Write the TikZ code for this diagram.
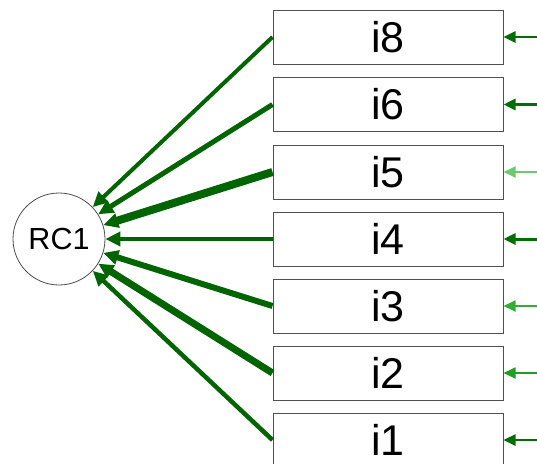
\documentclass[tikz,border=0pt]{standalone}
\usepackage{fontspec}
\setmainfont{Liberation Sans}
\usetikzlibrary{arrows.meta}
\definecolor{loadgreen}{RGB}{0,100,0}
\definecolor{resdark}{RGB}{0,110,0}
\definecolor{resmid}{RGB}{30,160,30}
\definecolor{resmid2}{RGB}{50,175,50}
\definecolor{reslight}{RGB}{110,200,110}
\definecolor{boxgray}{RGB}{80,80,80}
\tikzset{
  item/.style={draw=boxgray, line width=1pt, minimum width=230pt, minimum height=54pt,
    inner sep=0pt, font=\fontsize{43}{43}\selectfont},
  factor/.style={draw=black!70, circle, line width=0.8pt, minimum size=92pt, inner sep=0pt,
    font=\fontsize{30.5}{30.5}\selectfont},
  loading/.style={draw=loadgreen, -{Triangle[length=15pt,width=14pt]}},
  residual/.style={-{Triangle[length=12pt,width=11pt]}},
}
\begin{document}
\begin{tikzpicture}[x=1pt,y=-1pt]
\useasboundingbox (0,0) rectangle (537,463);
\clip (0,0) rectangle (537,463);

% latent factor
\node[factor] (RC1) at (59,239) {RC1};

% indicator boxes
\node[item] (i8) at (388,37)  {i8};
\node[item] (i6) at (388,104.5) {i6};
\node[item] (i5) at (388,172) {i5};
\node[item] (i4) at (388,239) {i4};
\node[item] (i3) at (388,306) {i3};
\node[item] (i2) at (388,373) {i2};
\node[item] (i1) at (388,440) {i1};

% loadings
\draw[loading, line width=4pt]   (i8.west) -- (RC1);
\draw[loading, line width=5pt]   (i6.west) -- (RC1);
\draw[loading, line width=8pt]   (i5.west) -- (RC1);
\draw[loading, line width=4.5pt] (i4.west) -- (RC1);
\draw[loading, line width=6pt]   (i3.west) -- (RC1);
\draw[loading, line width=7pt]   (i2.west) -- (RC1);
\draw[loading, line width=4.5pt] (i1.west) -- (RC1);

% residual variances
\coordinate (r8) at (540,37);
\coordinate (r6) at (540,104.5);
\coordinate (r5) at (540,172);
\coordinate (r4) at (540,239);
\coordinate (r3) at (540,306);
\coordinate (r2) at (540,373);
\coordinate (r1) at (540,440);
\draw[residual, draw=resdark, fill=resdark, line width=2.5pt] (r8) -- (i8.east);
\draw[residual, draw=resdark, fill=resdark, line width=3.5pt] (r6) -- (i6.east);
\draw[residual, draw=reslight, fill=reslight, line width=1.8pt] (r5) -- (i5.east);
\draw[residual, draw=resdark, fill=resdark, line width=3pt]   (r4) -- (i4.east);
\draw[residual, draw=resmid2, fill=resmid2, line width=1.8pt] (r3) -- (i3.east);
\draw[residual, draw=resmid, fill=resmid, line width=1.8pt]   (r2) -- (i2.east);
\draw[residual, draw=resdark, fill=resdark, line width=2.5pt] (r1) -- (i1.east);
\end{tikzpicture}
\end{document}
